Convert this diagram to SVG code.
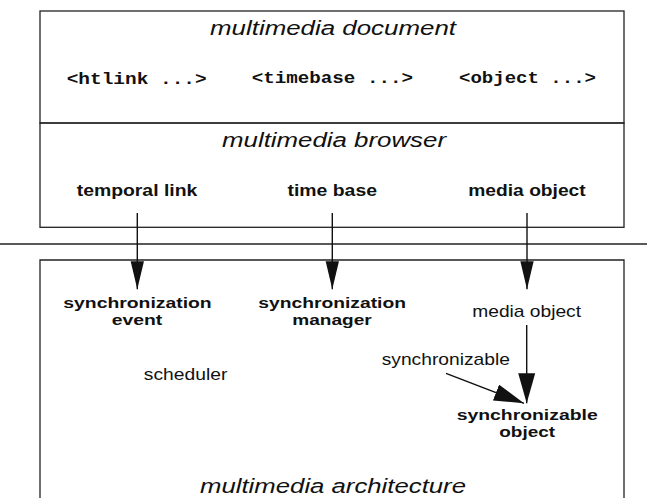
<svg xmlns="http://www.w3.org/2000/svg" width="647" height="498" viewBox="0 0 647 498">
<style>
.box{fill:none;stroke:#222;stroke-width:1.3}
.ln{fill:none;stroke:#111;stroke-width:1.4}
text{fill:#111;font-family:"Liberation Sans",Arial,sans-serif}
.it{font-style:italic;font-size:20.5px}
.mono{font-family:"Liberation Mono","Courier New",monospace;font-weight:bold;font-size:16px}
.b{font-weight:bold;font-size:14.5px}
.b17{font-weight:bold;font-size:17px}
.r{font-size:17px}
</style>
<defs>
<marker id="ah" markerUnits="userSpaceOnUse" markerWidth="30" markerHeight="16" refX="28" refY="6.65" orient="auto" viewBox="0 0 30 16">
<path d="M0,0 L28,6.65 L0,13.3 z" fill="#111"/>
</marker>
<marker id="ah2" markerUnits="userSpaceOnUse" markerWidth="32" markerHeight="18" refX="30" refY="8.5" orient="auto" viewBox="0 0 32 18">
<path d="M0,0 L30,8.5 L0,17 z" fill="#111"/>
</marker>
</defs>
<g id="document">
<rect class="box" x="40" y="11" width="584" height="112"/>
<text class="it" x="210" y="35" textLength="246" lengthAdjust="spacingAndGlyphs">multimedia document</text>
<text class="mono" x="66.7" y="84" textLength="140" lengthAdjust="spacingAndGlyphs">&lt;htlink ...&gt;</text>
<text class="mono" x="251.7" y="83" textLength="161.3" lengthAdjust="spacingAndGlyphs">&lt;timebase ...&gt;</text>
<text class="mono" x="459" y="83" textLength="137" lengthAdjust="spacingAndGlyphs">&lt;object ...&gt;</text>
</g>
<g id="browser">
<rect class="box" x="40" y="123" width="584" height="104.3"/>
<text class="it" x="222" y="147" textLength="224" lengthAdjust="spacingAndGlyphs">multimedia browser</text>
<text class="b17" x="76.7" y="196" textLength="120.6" lengthAdjust="spacingAndGlyphs">temporal link</text>
<text class="b17" x="287.5" y="196" textLength="89.5" lengthAdjust="spacingAndGlyphs">time base</text>
<text class="b17" x="468.3" y="196" textLength="117.4" lengthAdjust="spacingAndGlyphs">media object</text>
</g>
<g id="separator">
<line class="box" x1="0" y1="244" x2="647" y2="244"/>
</g>
<g id="architecture">
<path class="box" d="M40,510 L40,260 L624,260 L624,510"/>
<text class="it" x="200" y="493" textLength="266" lengthAdjust="spacingAndGlyphs">multimedia architecture</text>
</g>
<g id="sync-event">
<text class="b"><tspan x="63.3" y="307.5" textLength="148.4" lengthAdjust="spacingAndGlyphs">synchronization</tspan><tspan x="111.7" y="324.5" textLength="50.6" lengthAdjust="spacingAndGlyphs">event</tspan></text>
</g>
<g id="sync-manager">
<text class="b"><tspan x="258.3" y="307.5" textLength="147.7" lengthAdjust="spacingAndGlyphs">synchronization</tspan><tspan x="292.3" y="324.5" textLength="79.4" lengthAdjust="spacingAndGlyphs">manager</tspan></text>
</g>
<g id="media-object">
<text class="r" x="472.3" y="316.7" textLength="108.7" lengthAdjust="spacingAndGlyphs">media object</text>
</g>
<g id="synchronizable">
<text class="r" x="381.7" y="365" textLength="128.3" lengthAdjust="spacingAndGlyphs">synchronizable</text>
</g>
<g id="scheduler">
<text class="r" x="143.8" y="380" textLength="83.5" lengthAdjust="spacingAndGlyphs">scheduler</text>
</g>
<g id="sync-object">
<text class="b"><tspan x="456.7" y="419.5" textLength="141" lengthAdjust="spacingAndGlyphs">synchronizable</tspan><tspan x="499.3" y="436.5" textLength="55.7" lengthAdjust="spacingAndGlyphs">object</tspan></text>
</g>
<g id="connectors">
<line class="ln" x1="137.3" y1="213" x2="137.3" y2="289.3" marker-end="url(#ah)"/>
<line class="ln" x1="332.3" y1="213" x2="332.3" y2="289.3" marker-end="url(#ah)"/>
<line class="ln" x1="527" y1="213" x2="527" y2="289.3" marker-end="url(#ah)"/>
<line class="ln" x1="526.7" y1="325" x2="526.7" y2="403.3" marker-end="url(#ah2)"/>
<line class="ln" x1="446" y1="373.3" x2="524" y2="403.3" marker-end="url(#ah2)"/>
</g>
</svg>
